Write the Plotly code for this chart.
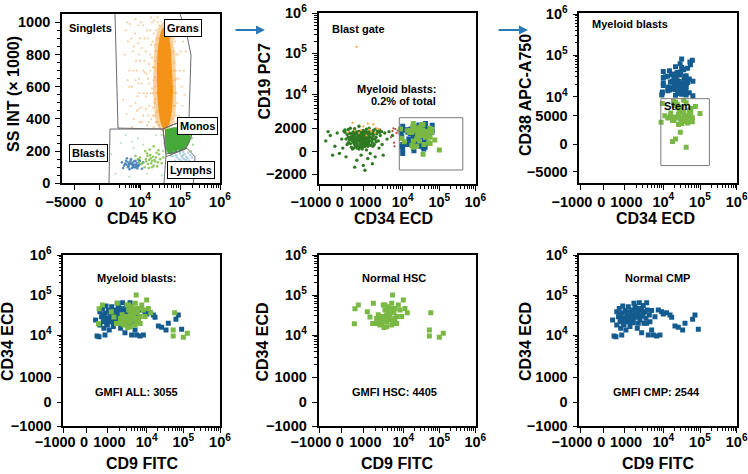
import numpy as np
import plotly.graph_objects as go

W, H = 748, 474
FONT = "Liberation Sans, Arial, sans-serif"

# ---------------- DATA ----------------
# Panel 1 (Singlets): CD45 KO vs SS INT (x1000)
GRAN_HAZE = [
    (2000, 950), (2600, 880), (3200, 990), (4500, 820), (5700, 930), (8000, 870), (10000, 760), (12000, 980), (13000, 690), (16000, 900),
    (18000, 800), (21000, 720), (24000, 860), (28000, 1000), (3000, 700), (4000, 600), (6000, 640), (9000, 560), (11000, 620), (14000, 540),
    (17000, 480), (20000, 590), (23000, 500), (26000, 440), (1500, 520), (2200, 430), (3500, 480), (5000, 400), (7000, 450), (9500, 380),
    (12000, 420), (15000, 360), (19000, 400), (22000, 350), (25000, 380), (8000, 980), (6500, 760), (4800, 700), (11000, 840), (15000, 950),
    (20000, 1000), (9000, 650), (13000, 760), (17000, 620), (21000, 560), (24000, 660), (27000, 560), (1800, 800), (2500, 640), (3800, 900),
    (7500, 540), (10500, 470), (16000, 420), (18000, 700), (22000, 930), (26000, 780), (80000, 950), (90000, 800), (100000, 700), (110000, 600),
    (85000, 500), (95000, 420), (120000, 880), (100000, 360), (75000, 1000), (80000, 650), (130000, 550), (70000, 380), (30000, 900), (29000, 750),
    (28000, 620), (30000, 480), (27000, 380), (29000, 820), (26000, 700), (28000, 560), (30000, 360), (25000, 950), (24000, 600), (23000, 420),
    (70000, 900), (72000, 750), (68000, 600), (74000, 480), (66000, 400), (70000, 820), (19000, 1030), (14000, 460), (6000, 1020), (4000, 350),
    (10000, 900), (12000, 700), (14000, 820), (16000, 650), (18000, 950), (20000, 780), (22000, 640), (24000, 520), (26000, 900), (28000, 700),
    (15000, 560), (17000, 740), (19000, 860), (21000, 470), (23000, 720), (25000, 820), (27000, 640), (29000, 450), (30000, 980), (13000, 900),
    (9000, 800), (7000, 700), (5000, 850), (3000, 600), (2400, 1000), (6000, 500), (8500, 620), (11000, 380), (16500, 380), (21500, 420),
    (75000, 880), (78000, 700), (82000, 560), (76000, 420), (88000, 920), (92000, 650), (70000, 980), (73000, 560), (68000, 700), (86000, 380),
    (105000, 820), (115000, 480), (98000, 980), (80000, 800), (72000, 640), (69000, 480), (125000, 700), (140000, 820), (27500, 1030), (22500, 1010),
    (12500, 560), (8500, 460), (18500, 560), (24500, 760), (26500, 560), (28500, 860), (29500, 620), (20500, 880), (14500, 680), (10500, 1000),
]
GRAN_CORE_CD45 = [3.98e4, 4.73e4, 5.31e4, 5.96e4, 6.31e4, 6.68e4, 6.31e4, 5.62e4, 4.73e4, 3.76e4, 3.16e4, 2.82e4, 2.66e4, 2.66e4, 2.82e4, 3.16e4, 3.55e4]
GRAN_CORE_SS = [971, 965, 921, 828, 704, 580, 455, 381, 343, 343, 393, 486, 611, 735, 840, 921, 958]
GRAN_HALO_CD45 = [3.76e4, 5.31e4, 6.31e4, 7.5e4, 7.94e4, 7.94e4, 7.5e4, 6.31e4, 4.47e4, 3.16e4, 2.51e4, 2.24e4, 2.11e4, 2.24e4, 2.37e4, 2.82e4]
GRAN_HALO_SS = [1002, 989, 921, 797, 642, 517, 424, 356, 325, 331, 381, 486, 611, 766, 877, 965]
MONO_CORE_CD45 = [4.22e4, 7.5e4, 1.33e5, 1.85e5, 1.7e5, 1.33e5, 8.26e4, 5.62e4, 4.65e4, 4.22e4]
MONO_CORE_SS = [335, 348, 342, 300, 248, 211, 190, 182, 196, 258]
MONO_DOTS = [(3.5e4, 300), (4e4, 250), (9e4, 360), (1.5e5, 330), (2e5, 280), (2.1e5, 240), (1.9e5, 200), (1.2e5, 175),
             (6e4, 170), (3.8e4, 200), (5e4, 320), (1.6e5, 350), (2.2e5, 310), (7e4, 345), (1.0e5, 195)]
LYMPH_DOTS = [(7e4, 190), (8e4, 175), (9e4, 200), (1.0e5, 185), (1.1e5, 170), (1.2e5, 195), (1.3e5, 180), (1.45e5, 165), (1.6e5, 190),
              (1.8e5, 175), (8.5e4, 160), (9.5e4, 150), (1.05e5, 140), (1.15e5, 160), (1.25e5, 150), (1.4e5, 145), (1.55e5, 155),
              (1.7e5, 140), (7.5e4, 140), (9e4, 125), (1.1e5, 120), (1.3e5, 130), (1.5e5, 120), (2e5, 160), (6.5e4, 170)]
BLAST_BLUE = [(1320, 130), (1660, 110), (2070, 140), (2600, 100), (3250, 125), (4070, 95), (5090, 135), (6380, 115), (7980, 105), (1e4, 140),
              (1.12e4, 90), (2300, 155), (2900, 120), (3600, 150), (4500, 110), (5600, 98), (7000, 128), (8800, 145), (1500, 95), (1900, 122),
              (2500, 132), (3100, 88), (3900, 118), (4800, 102), (6000, 140), (7400, 92), (9500, 118), (1.2e4, 130), (2800, 108), (4200, 128),
              (5300, 116), (6700, 104), (3400, 138), (2200, 115), (8200, 112)]
BLAST_GREEN = [(1.0e4, 160), (1.2e4, 130), (1.4e4, 150), (1.6e4, 120), (1.8e4, 175), (2.0e4, 140), (2.2e4, 110), (2.5e4, 160), (2.8e4, 130),
               (3.2e4, 150), (1.3e4, 100), (1.5e4, 185), (1.7e4, 145), (1.9e4, 125), (2.1e4, 165), (2.4e4, 135), (2.7e4, 105), (3.0e4, 180),
               (1.1e4, 120), (1.45e4, 135), (1.65e4, 95), (1.85e4, 155), (2.3e4, 145), (2.6e4, 190), (3.5e4, 125), (8000, 150), (9000, 130),
               (6000, 170), (1.55e4, 170), (2.0e4, 100), (1.75e4, 210), (2.9e4, 205), (1.35e4, 200), (2.2e4, 230), (3.8e4, 160)]
BLAST_SPARSE = [(800, 60), (1200, 250), (2000, 300), (3000, 40), (5000, 220), (8000, 280), (1.5e4, 60), (2.5e4, 300), (3.5e4, 50),
                (600, 180), (4000, 260), (1.2e4, 240)]
# gates (CD45, SS)
GATE_GRANS = [(780, 1051), (829, 766), (927, 343), (3.76e4, 337), (6.31e4, 362), (1.06e5, 381), (1.68e5, 406), (1.88e5, 797), (1.41e5, 950), (1.0e5, 1051)]
GATE_BLASTS = [(488, 0), (537, 337), (3.76e4, 337), (4.47e4, 176), (3.98e4, 0)]
GATE_MONOS = [(3.76e4, 337), (4.47e4, 182), (7.94e4, 194), (1.41e5, 219), (1.88e5, 281), (2.11e5, 356), (1.68e5, 406), (1.06e5, 381), (6.31e4, 362), (3.76e4, 337)]
GATE_LYMPHS = [(4.47e4, 165), (7.94e4, 191), (1.5e5, 217), (2.37e5, 165), (2.15e5, 0)]

# Panel 2 (Blast gate): CD34 ECD vs CD19 PC7 -- non-myeloid blasts
OTHER_DKGREEN = [
    (500, 600), (700, 800), (900, 500), (1100, 900), (1300, 700), (600, 1000), (800, 300), (1000, 1200), (1200, 400), (1500, 1000),
    (400, 800), (700, 200), (900, 1100), (1100, 600), (1400, 1300), (300, 500), (600, 400), (850, 900), (1050, 300), (1250, 1000),
    (1600, 600), (1800, 900), (2000, 700), (350, 1100), (550, 1300), (750, 650), (950, 750), (1150, 1150), (1350, 500), (1700, 1200),
    (200, 700), (450, 250), (650, 1150), (1000, 850), (1200, 100), (1450, 800), (1900, 400), (2200, 1000), (800, 1350), (950, 150),
    (1300, 850), (1550, 350), (250, 950), (500, 150), (700, 1250), (1100, 1400), (1650, 750), (2100, 550), (400, 450), (1000, 1000),
    (-700, 600), (-500, 900), (-300, 300), (-200, 1100), (0, 700), (100, 1400), (50, 200), (-100, -100), (300, 1700), (600, 1900),
    (900, -200), (1200, 1800), (1500, -100), (1800, 1500), (2300, 1400), (2700, 900), (3000, 400), (2500, 200), (3500, 1100), (4000, 700),
    (4500, 1300), (5500, 900), (200, -300), (700, -500), (1000, -800), (1300, -400), (400, 2000), (800, 2200), (1400, 2000), (2000, 1800),
    (2600, 1600), (-400, -200), (-600, 1300), (3200, -200), (2000, -300), (1100, -1200), (600, -900), (1700, -700), (150, 1600), (2900, 1300),
    (600, 700), (800, 600), (1000, 700), (1200, 800), (900, 900), (700, 500), (1100, 500), (500, 900), (1300, 1100), (800, 1000),
    (1000, 400), (600, 550), (1400, 600), (900, 650), (750, 850), (1150, 750), (1050, 1050), (650, 750), (850, 450), (1250, 600),
    (550, 500), (950, 1200), (1350, 900), (700, 1050), (1500, 800), (450, 650), (1100, 300), (800, 150), (1600, 1000), (300, 800),
    (1200, 1250), (900, 350), (1700, 500), (500, 1100), (1400, 400), (1000, 550), (650, 300), (1300, 300), (1800, 700), (400, 1000),
    (750, 1150), (1050, 650), (1250, 850), (850, 750), (950, 950), (600, 850), (1150, 950), (700, 650), (1450, 1100), (350, 650),
    (1900, 1100), (2100, 800), (250, 400), (550, 200), (1550, 1200), (1750, 300), (2400, 600), (2600, 1200), (150, 1200), (1000, 1500),
    (650, 600), (850, 800), (1050, 850), (1150, 650), (950, 550), (750, 950), (1250, 750), (550, 800), (1350, 1000), (900, 1050),
    (700, 400), (1000, 300), (1200, 550), (800, 750), (1100, 1100), (600, 1150), (1400, 750), (500, 700), (900, 250), (1300, 450),
]
OTHER_ORANGE = [(690, 1.46e5), (600, 1500), (1000, 2200), (1400, 1700), (1800, 2400), (800, 1100), (1200, 900), (2500, 1800), (500, 2600),
                (1600, 1300), (2200, 2000), (900, 1600), (300, 1200), (1300, 2500), (2000, 1100)]
OTHER_RED = [(5000, 800), (5500, 1400), (6000, 500), (6500, 1800), (7000, 1100), (5800, 2000), (7500, 1500), (6200, 300)]
GATE_MYELOID = dict(cd34=(8200, 4.5e5), cd19=(-1170, 3300))
GATE_STEM = dict(cd34=(8650, 1.8e5), cd38=(-2100, 9300))

# Myeloid blasts: CMP (CD38 high, blue) and HSC (Stem, green); per cell: (CD9, CD34), CD38, CD19
CMP_CD9_CD34 = [
    (450, 2.37e4), (520, 9460), (610, 9140), (650, 1.78e4), (730, 2.87e4), (770, 4.6e4), (810, 2.15e4), (840, 1.47e4), (890, 3.5e4), (890, 1.0e4),
    (940, 5.3e4), (970, 2.61e4), (1000, 1.78e4), (1060, 4.1e4), (1120, 1.33e4), (1170, 2.99e4), (1220, 2.15e4), (1290, 5.1e4), (1370, 3.6e4), (1420, 1.62e4),
    (1480, 2.47e4), (1570, 4.2e4), (1660, 3.16e4), (1730, 2.03e4), (1790, 6.2e4), (1900, 3.8e4), (2020, 2.77e4), (2100, 4.6e4), (2180, 1.47e4), (2310, 3.5e4),
    (2450, 6.4e4), (2550, 2.37e4), (2650, 4.2e4), (2810, 1.14e4), (2980, 2.99e4), (3100, 5.5e4), (3220, 1.96e4), (3420, 3.8e4), (3620, 2.61e4), (3770, 6.4e4),
    (3920, 4.2e4), (4150, 1.0e4), (4400, 3.16e4), (4580, 2.15e4), (5050, 1.33e4), (5570, 1.0e4), (6130, 2.87e4), (6770, 9460), (7460, 4.2e4), (8230, 1.0e4),
    (9070, 3.8e4), (1.0e4, 3.35e4), (1.23e4, 3.6e4), (1.52e4, 3.16e4), (1.69e4, 2.77e4), (2.08e4, 1.68e4), (2.56e4, 1.56e4), (3.37e4, 1.33e4), (3.9e4, 1.96e4), (6.3e4, 2.47e4),
    (7.3e4, 3.16e4), (9.0e4, 1.39e4), (650, 3.8e4), (840, 2.61e4), (1060, 2.37e4), (1290, 2.77e4), (1570, 2.15e4), (1900, 5.1e4), (2310, 1.96e4), (2810, 4.6e4),
    (970, 1.96e4), (1170, 3.8e4), (1420, 3.16e4), (1730, 2.61e4), (2100, 3.6e4), (2550, 2.99e4), (3100, 3.6e4), (3770, 1.96e4), (810, 3.16e4), (5050, 4.1e4),
]
CMP_CD38 = [2.1e4, 1.3e4, 1.1e4, 3.5e4, 1.8e4, 2.6e4, 1.5e4, 4.2e4, 1.2e4, 2.9e4, 6.8e4, 1.7e4, 2.3e4, 1.4e4, 3.1e4, 1.9e4, 5.2e4, 1.25e4, 2.4e4, 1.6e4,
            3.8e4, 2.0e4, 1.15e4, 2.7e4, 7.5e4, 1.35e4, 3.3e4, 2.2e4, 1.45e4, 4.6e4, 1.05e4, 2.5e4, 1.75e4, 3.0e4, 1.28e4, 5.8e4, 2.05e4, 1.55e4, 3.6e4, 2.35e4,
            1.1e4, 4.0e4, 1.65e4, 2.8e4, 1.38e4, 2.15e4, 6.2e4, 1.22e4, 3.2e4, 1.85e4, 2.55e4, 1.48e4, 4.4e4, 1.95e4, 1.3e4, 3.4e4, 2.25e4, 1.58e4, 2.95e4, 1.2e4,
            5.0e4, 1.7e4, 2.45e4, 1.4e4, 3.7e4, 2.1e4, 1.08e4, 2.65e4, 1.5e4, 4.8e4, 1.9e4, 3.05e4, 1.33e4, 2.3e4, 1.62e4, 3.9e4, 1.18e4, 2.75e4, 8.0e4, 1.42e4]
CMP_CD19 = [800, 300, 1200, 1600, 500, 950, 2100, 700, 1400, 150, 1800, 600, 1100, 2400, 400, 1300, 900, 1700, 250, 1000,
            2000, 650, 1500, 50, 1150, 850, 1900, 450, 1250, 750, 2300, 350, 1050, 1550, 600, 1350, 200, 1750, 900, 1450,
            550, 2200, 1000, 700, 1650, -100, 1200, 850, 2500, 400, 1300, 950, 1600, 300, 1100, 1850, 500, 1400, 750, 2000,
            650, 1250, 150, 1700, 1000, 2350, 450, 1500, 800, 1150, 350, 1950, 900, 1350, 600, 1050, 2150, 700, 1550, 250]
HSC_CD9_CD34 = [
    (770, 5.6e4), (615, 4.5e4), (585, 1.9e4), (1260, 3.8e4), (1470, 2.8e4), (1780, 6.2e4), (1710, 1.95e4), (1960, 1.95e4), (2150, 2.6e4), (2370, 3.2e4),
    (2610, 2.4e4), (2870, 1.95e4), (3160, 5.6e4), (3480, 4.2e4), (3690, 2.9e4), (3830, 2.15e4), (4220, 5.1e4), (4470, 3.8e4), (4640, 3.2e4), (4820, 2.4e4),
    (5130, 6.2e4), (5410, 1.0e5), (5620, 4.6e4), (5850, 3.6e4), (6190, 2.6e4), (6810, 1.95e4), (7500, 5.6e4), (8250, 4.2e4), (9080, 2.9e4), (1.0e4, 7.5e4),
    (1.11e4, 4.6e4), (1.29e4, 3.6e4), (3290, 1.55e4), (5130, 1.78e4), (5.8e4, 3.6e4), (5.3e4, 1.33e4), (5.3e4, 9450), (1.0e5, 8800), (1.29e5, 1.1e4), (2870, 2.9e4),
    (3160, 2.4e4), (3830, 3.2e4), (4220, 2.6e4), (2240, 1.95e4), (2610, 1.78e4), (5620, 2.15e4), (6810, 2.9e4), (4640, 4.2e4), (3830, 1.6e4), (3480, 5.6e4),
    (6190, 4.6e4),
]
HSC_CD38 = [6200, 4800, 8400, 3100, 5600, 2200, 7300, 3900, 1500, 6800, 4300, 2700, 5200, 8000, 3500, 300, 6000, 4600, 2500, 7600,
            3800, 5400, 1800, 8800, 4100, 2900, 6500, 3300, 700, 7000, 5000, 2300, 4400, 150, 5800, 3700, 7800, 2000, 4900, 3200,
            6700, 1700, 5300, 4000, 2600, 8200, 3600, -200, 5500, 2800, 4500]
HSC_CD19 = [1500, 900, 2200, 400, 1800, 1200, 600, 2500, 1000, 1600, 300, 1400, 2000, 800, 1100, 1900, 500, 1300, 2300, 700,
            1700, 100, 1050, 1550, 850, 2100, 450, 1250, 1750, 650, 950, 2400, 1150, 350, -150, 1450, 750, 1850, 550, 1350,
            2050, 900, 1650, 250, 1200, 1950, 600, 1000, 1500, 800, 1300]

# tick labels; an invisible pad nudges crowded labels sideways, as in the original artwork
def pad_r(s, pad):
    return s + "<span style='color:rgba(0,0,0,0)'>" + pad + "</span>"


def pad_l(s, pad):
    return "<span style='color:rgba(0,0,0,0)'>" + pad + "</span>" + s


SUP = {4: "10<sup>4</sup>", 5: "10<sup>5</sup>", 6: "10<sup>6</sup>"}
T_P1X = [(-5000, pad_r("\u22125000", "00")), (0, "0"), (1e4, SUP[4]), (1e5, SUP[5]), (1e6, SUP[6])]
T_P1Y = [(0, "0"), (200, "200"), (400, "400"), (600, "600"), (800, "800"), (1000, "1000")]
T_CD = [(-1000, pad_r("\u22121000", "00")), (0, pad_r("0", ".")), (1000, pad_l("1000", ".")), (1e4, SUP[4]), (1e5, SUP[5]), (1e6, SUP[6])]
T_CDY = [(-1000, "\u22121000"), (0, "0"), (1000, "1000"), (1e4, SUP[4]), (1e5, SUP[5]), (1e6, SUP[6])]
T_P2Y = [(-2000, "\u22122000"), (0, "0"), (2000, "2000"), (1e4, SUP[4]), (1e5, SUP[5]), (1e6, SUP[6])]
T_P3Y = [(-5000, "\u22125000"), (0, "0"), (5000, "5000"), (1e4, SUP[4]), (1e5, SUP[5]), (1e6, SUP[6])]

# ---------------- SCALES (biexponential display) ----------------
PANELS = {
    1: dict(L=62, R=220, T=14, B=183.3),
    2: dict(L=318.5, R=476, T=13.3, B=184),
    3: dict(L=579.3, R=737.3, T=13.3, B=183.3),
    4: dict(L=63.3, R=220, T=255, B=426),
    5: dict(L=318.5, R=476, T=255, B=426),
    6: dict(L=579.3, R=737.3, T=255, B=426),
}
X_ANCH = {
    1: [(-5000, 74), (0, 99), (1e4, 140), (1e5, 180), (1e6, 220)],
    2: [(-1000, 319), (0, 341.7), (1000, 363.3), (1e4, 402.7), (1e5, 439.3), (1e6, 475.3)],
    3: [(-1000, 580), (0, 603.3), (1000, 624.3), (1e4, 663.3), (1e5, 700), (1e6, 736.7)],
    4: [(-1000, 63.3), (0, 86), (1000, 107.3), (1e4, 146.7), (1e5, 183.3), (1e6, 220)],
    5: [(-1000, 319), (0, 341.7), (1000, 363.3), (1e4, 403.3), (1e5, 439.3), (1e6, 475.3)],
    6: [(-1000, 580), (0, 603.3), (1000, 624), (1e4, 663.3), (1e5, 700), (1e6, 736.7)],
}
BOT_Y = [(-1000, 426), (0, 402.3), (1000, 377.3), (1e4, 335), (1e5, 295), (1e6, 255)]
Y_ANCH = {
    2: [(-2000, 174), (0, 151.7), (2000, 128.3), (1e4, 94.3), (1e5, 53.3), (1e6, 13.3)],
    3: [(-5000, 171.7), (0, 144), (5000, 115.7), (1e4, 96.7), (1e5, 55), (1e6, 14)],
    4: BOT_Y, 5: BOT_Y, 6: BOT_Y,
}


def g(v):
    v = np.asarray(v, dtype=float)
    a = np.abs(v)
    out = np.where(a <= 1000, a / 1000.0, 1 + np.log10(np.maximum(a, 1e-9) / 1000.0))
    return np.sign(v) * out


def scale(vals, anchors):
    av = np.array([a[0] for a in anchors], dtype=float)
    ap = np.array([a[1] for a in anchors], dtype=float)
    return np.interp(g(vals), g(av), ap)


def sx(vals, p):
    return scale(vals, X_ANCH[p])


def sy(vals, p):
    if p == 1:
        return np.asarray(vals, dtype=float)
    return scale(vals, Y_ANCH[p])


def minor_log(lo_dec, hi_dec, start=2):
    out = []
    for d in range(lo_dec, hi_dec):
        for k in range(start, 10):
            out.append(k * 10 ** d)
    return out


fig = go.Figure()


def ax(p):
    return ("x" if p == 1 else f"x{p}"), ("y" if p == 1 else f"y{p}")


def add_pts(pairs_x, pairs_y, p, color, size, symbol="circle", opacity=1.0):
    xa, ya = ax(p)
    fig.add_trace(go.Scatter(x=sx(pairs_x, p), y=sy(pairs_y, p), mode="markers", xaxis=xa, yaxis=ya,
                             marker=dict(color=color, size=size, symbol=symbol, opacity=opacity, line=dict(width=0)),
                             hoverinfo="skip", showlegend=False, cliponaxis=True))


def add_poly(xs, ys, p, fill=None, line=None, lw=1.0):
    xa, ya = ax(p)
    if fill:
        ln = dict(color="rgba(0,0,0,0)", width=0, shape="spline", smoothing=0.6)
    else:
        ln = dict(color=line, width=lw)
    fig.add_trace(go.Scatter(x=sx(xs, p), y=sy(ys, p), mode="lines", xaxis=xa, yaxis=ya,
                             fill="toself" if fill else None, fillcolor=fill, line=ln,
                             hoverinfo="skip", showlegend=False))


def unz(pairs):
    return [a for a, b in pairs], [b for a, b in pairs]


# ---- Panel 1 ----
ORANGE = "#f39419"
hx, hy = unz(GRAN_HAZE)
add_pts(hx, hy, 1, "#f2a24a", 2.2, opacity=0.5)
add_poly(GRAN_HALO_CD45, GRAN_HALO_SS, 1, fill="rgba(244,155,45,0.45)")
add_poly(GRAN_CORE_CD45, GRAN_CORE_SS, 1, fill=ORANGE)
mx, my = unz(MONO_DOTS)
add_pts(mx, my, 1, "#5cb84a", 2.2, opacity=0.6)
add_poly(MONO_CORE_CD45, MONO_CORE_SS, 1, fill="#45aa3a")
lx, ly = unz(LYMPH_DOTS)
add_pts(lx, ly, 1, "#a9cbe8", 2.5, opacity=0.9)
sx_, sy_ = unz(BLAST_SPARSE)
add_pts(sx_, sy_, 1, "#8cc08a", 2.0, opacity=0.6)
bx, by = unz(BLAST_BLUE)
add_pts(bx, by, 1, "#3a78b0", 2.6, opacity=0.85)
gx, gy = unz(BLAST_GREEN)
add_pts(gx, gy, 1, "#7cbf45", 2.6, opacity=0.85)
for gate in (GATE_GRANS, GATE_BLASTS, GATE_MONOS, GATE_LYMPHS):
    a, b = unz(gate)
    add_poly(a, b, 1, line="#6a6a6a", lw=1.0)

# ---- Panel 2 ----
CMP_BLUE = "#145c8f"
HSC_GREEN = "#79b843"
ox, oy = unz(OTHER_DKGREEN)
add_pts(ox, oy, 2, "#2f7a22", 3.4)
rx, ry = unz(OTHER_RED)
add_pts(rx, ry, 2, "#b4453a", 2.2)
orx, ory = unz(OTHER_ORANGE)
add_pts(orx, ory, 2, "#f0a23a", 2.2)
cmp9, cmp34 = unz(CMP_CD9_CD34)
hsc9, hsc34 = unz(HSC_CD9_CD34)
add_pts(cmp34, CMP_CD19, 2, CMP_BLUE, 5, "square")
add_pts(hsc34, HSC_CD19, 2, HSC_GREEN, 5, "square")
x0, x1 = GATE_MYELOID["cd34"]
y0, y1 = GATE_MYELOID["cd19"]
add_poly([x0, x1, x1, x0, x0], [y0, y0, y1, y1, y0], 2, line="#7a7a7a", lw=1.0)

# ---- Panel 3 ----
add_pts(cmp34, CMP_CD38, 3, CMP_BLUE, 5, "square")
add_pts(hsc34, HSC_CD38, 3, HSC_GREEN, 5, "square")
x0, x1 = GATE_STEM["cd34"]
y0, y1 = GATE_STEM["cd38"]
add_poly([x0, x1, x1, x0, x0], [y0, y0, y1, y1, y0], 3, line="#7a7a7a", lw=1.0)

# ---- Panels 4-6 ----
add_pts(cmp9, cmp34, 4, CMP_BLUE, 5, "square")
add_pts(hsc9, hsc34, 4, HSC_GREEN, 5, "square")
add_pts(hsc9, hsc34, 5, HSC_GREEN, 5, "square")
add_pts(cmp9, cmp34, 6, CMP_BLUE, 5, "square")

# ---------------- AXES ----------------
TICKFONT = dict(family=FONT, size=14.5, color="black", weight="bold")
COMMON = dict(showgrid=False, zeroline=False, showline=True, linecolor="black", linewidth=1.6, mirror=True,
              ticks="outside", ticklen=5, tickwidth=1.4, tickcolor="black", tickfont=TICKFONT, fixedrange=True,
              tickangle=0, automargin=False)

LOG_MINOR = minor_log(3, 6)
layout_axes = {}
for p, r in PANELS.items():
    xa = "xaxis" if p == 1 else f"xaxis{p}"
    ya = "yaxis" if p == 1 else f"yaxis{p}"
    xticks = T_P1X if p == 1 else T_CD
    xminor = ([1000] + LOG_MINOR) if p == 1 else LOG_MINOR
    layout_axes[xa] = dict(domain=[r["L"] / W, r["R"] / W], range=[r["L"], r["R"]], anchor=ax(p)[1],
                           tickmode="array", tickvals=list(sx([t[0] for t in xticks], p)),
                           ticktext=[t[1] for t in xticks], ticklabelstandoff=(-1 if p <= 3 else -3),
                           minor=dict(tickmode="array", tickvals=list(sx(xminor, p)), ticklen=3, tickwidth=1,
                                      ticks="outside", tickcolor="black", showgrid=False),
                           **COMMON)
    if p == 1:
        ytop = (183.3 - r["T"]) / 0.161
        layout_axes[ya] = dict(domain=[1 - r["B"] / H, 1 - r["T"] / H], range=[0, ytop], anchor="x",
                               tickmode="array", tickvals=[t[0] for t in T_P1Y], ticktext=[t[1] for t in T_P1Y],
                               ticklabelstandoff=2,
                               minor=dict(tickmode="array", tickvals=[v for v in range(50, 1050, 50) if v % 200],
                                          ticklen=3, tickwidth=1, ticks="outside", tickcolor="black", showgrid=False),
                               **COMMON)
    else:
        yticks = {2: T_P2Y, 3: T_P3Y}.get(p, T_CDY)
        yminor = {2: [3000, 4000, 5000, 6000, 7000, 8000, 9000] + minor_log(4, 6),
                  3: minor_log(4, 6)}.get(p, LOG_MINOR)
        layout_axes[ya] = dict(domain=[1 - r["B"] / H, 1 - r["T"] / H], range=[r["B"], r["T"]], anchor=ax(p)[0],
                               tickmode="array", tickvals=list(sy([t[0] for t in yticks], p)),
                               ticktext=[t[1] for t in yticks], ticklabelstandoff=2,
                               minor=dict(tickmode="array", tickvals=list(sy(yminor, p)), ticklen=3, tickwidth=1,
                                          ticks="outside", tickcolor="black", showgrid=False),
                               **COMMON)

# ---------------- ANNOTATIONS ----------------
def pxp(x, y):
    return x / W, 1 - y / H


ann = []


def text(x, y, s, size=11, xanchor="center", angle=0, box=False, weight="bold"):
    X, Y = pxp(x, y)
    d = dict(x=X, y=Y, xref="paper", yref="paper", text=s, showarrow=False, xanchor=xanchor, yanchor="middle",
             textangle=angle, font=dict(family=FONT, size=size, color="black", weight=weight))
    if box:
        d.update(bordercolor="black", borderwidth=1, borderpad=2, bgcolor="white")
    ann.append(d)


# axis titles
AT = 16
text(141, 218.5, "CD45 KO", AT)
text(393, 218.5, "CD34 ECD", AT)
text(655, 218.5, "CD34 ECD", AT)
for cx in (141.7, 397, 658):
    text(cx, 463.5, "CD9 FITC", AT)
text(13, 94, "SS INT (\u00d7 1000)", AT, angle=-90)
text(263.5, 81, "CD19 PC7", AT, angle=-90)
text(525, 95, "CD38 APC-A750", AT, angle=-90)
text(7, 342, "CD34 ECD", AT, angle=-90)
text(261.5, 342, "CD34 ECD", AT, angle=-90)
text(525, 342, "CD34 ECD", AT, angle=-90)

# panel texts
text(67, 28, "Singlets", xanchor="left")
text(183, 28.5, "Grans", box=True)
text(197.5, 126, "Monos", box=True)
text(88.5, 152.5, "Blasts", box=True)
text(191, 170, "Lymphs", box=True)
text(330, 29, "Blast gate", xanchor="left")
text(438, 89, "Myeloid blasts:", xanchor="right")
text(438, 101, "0.2% of total", xanchor="right")
text(590, 24, "Myeloid blasts", xanchor="left")
text(662, 106, "Stem", xanchor="left")
text(136.5, 278, "Myeloid blasts:")
text(136.5, 392, "GMFI ALL: 3055")
text(394, 278, "Normal HSC")
text(394.5, 392, "GMFI HSC: 4405")
text(657, 278, "Normal CMP")
text(656.7, 392, "GMFI CMP: 2544")

# arrows between panels
for (xa0, xa1) in ((234, 265), (497, 528)):
    X1, Y1 = pxp(xa1, 30)
    ann.append(dict(x=X1, y=Y1, ax=xa0 - xa1, ay=0, xref="paper", yref="paper", axref="pixel", ayref="pixel",
                    text="", showarrow=True, arrowhead=2, arrowsize=0.9, arrowwidth=2, arrowcolor="#2a79b9"))

fig.update_layout(width=W, height=H, margin=dict(l=0, r=0, t=0, b=0, autoexpand=False), autosize=False,
                  paper_bgcolor="white", plot_bgcolor="white", showlegend=False,
                  annotations=ann, **layout_axes)

fig.write_html("out.html")
